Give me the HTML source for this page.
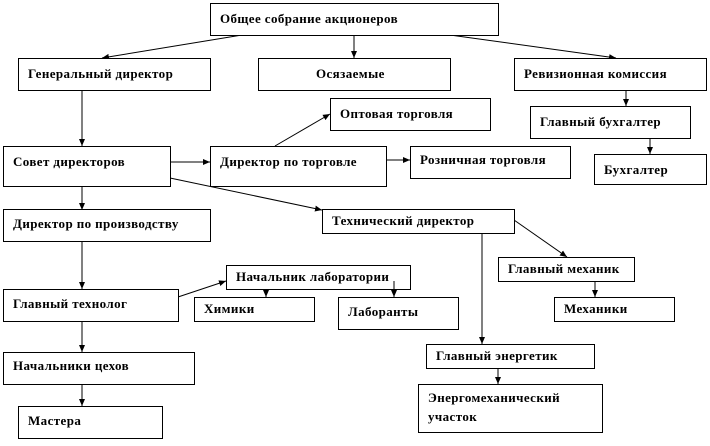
<!DOCTYPE html>
<html><head><meta charset="utf-8"><style>
body{margin:0;background:#fff;width:710px;height:441px;overflow:hidden}
svg text{font-family:"Liberation Serif",serif;font-weight:bold;font-size:13px;letter-spacing:0.4px;fill:#000}
rect{fill:#fff;stroke:#000;stroke-width:1}
line{stroke:#000;stroke-width:1}
</style></head><body>
<svg width="710" height="441" xmlns="http://www.w3.org/2000/svg">
<defs><marker id="a" markerWidth="8" markerHeight="8" refX="7" refY="4" orient="auto" markerUnits="userSpaceOnUse"><path d="M0,1 L7,4 L0,7 z" fill="#000"/></marker></defs>
<g>
<line x1="242" y1="35" x2="102" y2="58" marker-end="url(#a)"/>
<line x1="354" y1="35" x2="354" y2="58" marker-end="url(#a)"/>
<line x1="450" y1="35" x2="616" y2="58" marker-end="url(#a)"/>
<line x1="82" y1="90" x2="82" y2="146" marker-end="url(#a)"/>
<line x1="626" y1="90" x2="626" y2="106" marker-end="url(#a)"/>
<line x1="650" y1="138" x2="650" y2="154" marker-end="url(#a)"/>
<line x1="170" y1="162" x2="210" y2="162" marker-end="url(#a)"/>
<line x1="275" y1="146" x2="330" y2="114" marker-end="url(#a)"/>
<line x1="386" y1="160" x2="410" y2="160" marker-end="url(#a)"/>
<line x1="170" y1="178" x2="322" y2="210" marker-end="url(#a)"/>
<line x1="82" y1="186" x2="82" y2="210" marker-end="url(#a)"/>
<line x1="82" y1="241" x2="82" y2="289" marker-end="url(#a)"/>
<line x1="178" y1="297" x2="226" y2="281" marker-end="url(#a)"/>
<line x1="482" y1="233" x2="482" y2="344" marker-end="url(#a)"/>
<line x1="514" y1="220" x2="567" y2="257" marker-end="url(#a)"/>
<line x1="595" y1="281" x2="595" y2="297" marker-end="url(#a)"/>
<line x1="498" y1="368" x2="498" y2="384" marker-end="url(#a)"/>
<line x1="82" y1="321" x2="82" y2="352" marker-end="url(#a)"/>
<line x1="82" y1="384" x2="82" y2="406" marker-end="url(#a)"/>
</g>
<rect x="210.5" y="3.5" width="288" height="32"/><text x="220" y="23">Общее собрание акционеров</text>
<rect x="18.5" y="58.5" width="192" height="32"/><text x="28" y="78">Генеральный директор</text>
<rect x="258.5" y="58.5" width="192" height="32"/><text x="316" y="78">Осязаемые</text>
<rect x="514.5" y="58.5" width="192" height="32"/><text x="524" y="78">Ревизионная комиссия</text>
<rect x="330.5" y="98.5" width="160" height="32"/><text x="340" y="118">Оптовая торговля</text>
<rect x="530.5" y="106.5" width="160" height="32"/><text x="540" y="126">Главный бухгалтер</text>
<rect x="3.5" y="146.5" width="167" height="40"/><text x="13" y="166">Совет директоров</text>
<rect x="210.5" y="146.5" width="176" height="40"/><text x="220" y="166">Директор по торговле</text>
<rect x="410.5" y="146.5" width="160" height="32"/><text x="420" y="164">Розничная торговля</text>
<rect x="594.5" y="154.5" width="112" height="30"/><text x="604" y="174">Бухгалтер</text>
<rect x="3.5" y="209.5" width="207" height="32"/><text x="13" y="228">Директор по производству</text>
<rect x="322.5" y="209.5" width="192" height="24"/><text x="332" y="225">Технический директор</text>
<rect x="226.5" y="265.5" width="184" height="24"/><text x="236" y="281">Начальник лаборатории</text>
<line x1="266" y1="289" x2="266" y2="297" marker-end="url(#a)"/>
<line x1="394" y1="281" x2="394" y2="297" marker-end="url(#a)"/>
<rect x="3.5" y="289.5" width="175" height="32"/><text x="13" y="308">Главный технолог</text>
<rect x="194.5" y="297.5" width="120" height="24"/><text x="204" y="313">Химики</text>
<rect x="338.5" y="297.5" width="120" height="32"/><text x="348" y="316">Лаборанты</text>
<rect x="498.5" y="257.5" width="136" height="24"/><text x="508" y="273">Главный механик</text>
<rect x="554.5" y="297.5" width="120" height="24"/><text x="564" y="313">Механики</text>
<rect x="426.5" y="344.5" width="168" height="24"/><text x="436" y="360">Главный энергетик</text>
<rect x="3.5" y="352.5" width="191" height="32"/><text x="13" y="370">Начальники цехов</text>
<rect x="418.5" y="384.5" width="184" height="48"/><text x="428" y="402">Энергомеханический</text><text x="428" y="421">участок</text>
<rect x="18.5" y="406.5" width="144" height="32"/><text x="28" y="425">Мастера</text>
</svg>
</body></html>
